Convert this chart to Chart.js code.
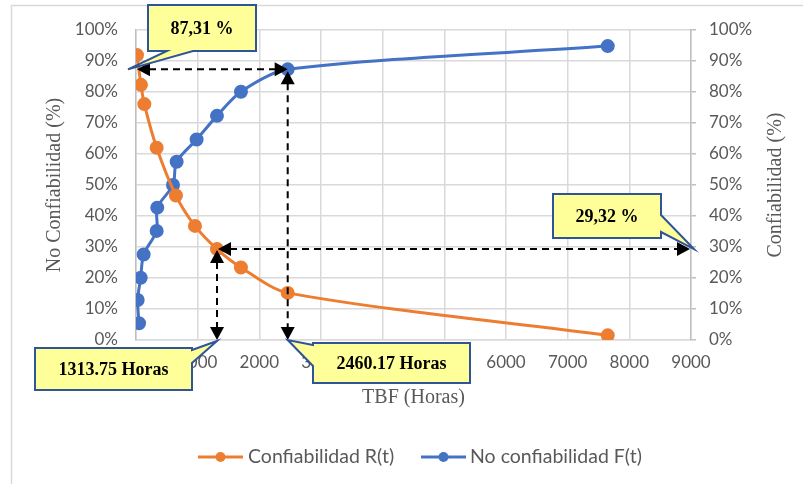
<!DOCTYPE html>
<html>
<head>
<meta charset="utf-8">
<script src="https://cdn.jsdelivr.net/npm/chart.js@4"></script>
<style>
  html,body{margin:0;padding:0;background:#fff;}
  canvas{display:block;}
</style>
</head>
<body>
<canvas id="chart" width="803" height="484"></canvas>
<script>
// data
const rtX = [16, 81, 135, 335, 648, 956, 1313.75, 1702, 2460.17, 7650];
const rtY = [91.9, 82.3, 76.1, 62.0, 46.6, 36.8, 29.32, 23.4, 15.2, 1.5];
const ftX = [49, 27, 76, 124, 335, 345, 600, 659, 983, 1313, 1702, 2460.17, 7650];
const ftY = [5.4, 12.9, 20.1, 27.6, 35.2, 42.7, 50.0, 57.5, 64.7, 72.3, 80.1, 87.31, 94.8];
const seriesNames = ['Confiabilidad R(t)', 'No confiabilidad F(t)'];
const seriesColors = ['#ED7D31', '#4472C4'];
const xTicks = [0, 1000, 2000, 3000, 4000, 5000, 6000, 7000, 8000, 9000];
const yTicks = [0, 10, 20, 30, 40, 50, 60, 70, 80, 90, 100];

// marked readings (callouts + dashed arrows)
const markHours = [1313.75, 2460.17];
const markPct = [29.32, 87.31];
const markTexts = ['1313.75 Horas', '2460.17 Horas', '29,32 %', '87,31 %'];

const gc = '#d9d9d9';
const tc = '#595959';
const tickFont = {family:'Lato', size:17};
const serif = 'Liberation Serif';

const toPts = (xs, ys) => xs.map((x,i)=>({x, y:ys[i]}));

function arrowHead(ctx, tx, ty, dx, dy){
  const L = 13, W = 7;
  const bx = tx - dx*L, by = ty - dy*L;
  ctx.beginPath();
  ctx.moveTo(tx, ty);
  ctx.lineTo(bx - dy*W, by + dx*W);
  ctx.lineTo(bx + dy*W, by - dx*W);
  ctx.closePath();
  ctx.fill();
}
function dashedArrow(ctx, x1, y1, x2, y2){
  const len = Math.hypot(x2-x1, y2-y1);
  const dx = (x2-x1)/len, dy = (y2-y1)/len;
  ctx.save();
  ctx.strokeStyle = '#000'; ctx.fillStyle = '#000';
  ctx.lineWidth = 2; ctx.setLineDash([7,5]);
  ctx.beginPath();
  ctx.moveTo(x1 + dx*12, y1 + dy*12);
  ctx.lineTo(x2 - dx*12, y2 - dy*12);
  ctx.stroke();
  ctx.setLineDash([]);
  arrowHead(ctx, x2, y2, dx, dy);
  arrowHead(ctx, x1, y1, -dx, -dy);
  ctx.restore();
}
// poly = outline of box with tail already inserted
function callout(ctx, poly, box, text){
  ctx.save();
  ctx.beginPath();
  poly.forEach((p,i)=> i ? ctx.lineTo(p[0],p[1]) : ctx.moveTo(p[0],p[1]));
  ctx.closePath();
  ctx.fillStyle = '#FFFF99';
  ctx.fill();
  ctx.strokeStyle = '#2F5597';
  ctx.lineWidth = 2;
  ctx.lineJoin = 'miter';
  ctx.stroke();
  ctx.fillStyle = '#000';
  ctx.font = 'bold 18px "' + serif + '"';
  ctx.textAlign = 'center';
  ctx.textBaseline = 'middle';
  ctx.fillText(text, box[0] + box[2]/2, box[1] + box[3]/2 + 1);
  ctx.restore();
}

const decor = {
  id:'decor',
  beforeDraw(chart){
    const ctx = chart.ctx;
    ctx.save();
    ctx.fillStyle = '#fff';
    ctx.fillRect(0,0,chart.width,chart.height);
    ctx.strokeStyle = gc; ctx.lineWidth = 1.5;
    ctx.strokeRect(11.5, 5.5, chart.width, chart.height);
    ctx.restore();
  },
  afterDatasetsDraw(chart){
    const ctx = chart.ctx;
    const xs = chart.scales.x, ys = chart.scales.y;
    const px = v => xs.getPixelForValue(v), py = v => ys.getPixelForValue(v);
    const x0 = px(0), xEnd = px(9000), yB = py(0);

    // dashed arrows
    const h1 = px(markHours[0]), h2 = px(markHours[1]);
    const r1 = py(markPct[0]), r2 = py(markPct[1]);
    dashedArrow(ctx, x0 + 1, r2, h2, r2);
    dashedArrow(ctx, h2, r2 + 2, h2, yB);
    dashedArrow(ctx, h1 + 1, r1, xEnd - 1, r1);
    dashedArrow(ctx, h1, r1 + 1, h1, yB);

    // callouts
    let b = [35, 348, 157, 42];
    callout(ctx, [[b[0],b[1]],[b[0]+b[2],b[1]],[b[0]+b[2],b[1]+2],[h1, yB+1],[b[0]+b[2],b[1]+15],[b[0]+b[2],b[1]+b[3]],[b[0],b[1]+b[3]]], b, markTexts[0]);
    b = [313, 343, 157, 40];
    callout(ctx, [[b[0],b[1]],[b[0]+b[2],b[1]],[b[0]+b[2],b[1]+b[3]],[b[0],b[1]+b[3]],[b[0],b[1]+23],[h2, yB],[b[0],b[1]+2]], b, markTexts[1]);
    b = [553, 194, 108, 44];
    callout(ctx, [[b[0],b[1]],[b[0]+b[2],b[1]],[b[0]+b[2],b[1]+21],[xEnd+3, r1],[b[0]+b[2],b[1]+38],[b[0]+b[2],b[1]+b[3]],[b[0],b[1]+b[3]]], b, markTexts[2]);
    b = [148, 5, 108, 46];
    callout(ctx, [[b[0],b[1]],[b[0]+b[2],b[1]],[b[0]+b[2],b[1]+b[3]],[193,b[1]+b[3]],[x0-8, r2],[167,b[1]+b[3]],[b[0],b[1]+b[3]]], b, markTexts[3]);

    // right axis title, reading bottom to top
    ctx.save();
    ctx.translate(776, (chart.chartArea.top + chart.chartArea.bottom)/2);
    ctx.rotate(-Math.PI/2);
    ctx.fillStyle = tc;
    ctx.font = '20px "' + serif + '"';
    ctx.textAlign = 'center'; ctx.textBaseline = 'middle';
    ctx.fillText('Confiabilidad (%)', 0, 0);
    ctx.restore();

    // legend
    ctx.save();
    ctx.font = '19.5px Lato';
    ctx.textBaseline = 'middle';
    const ly = 457;
    [[198, 248], [421, 470]].forEach((p, i)=>{
      ctx.strokeStyle = seriesColors[i]; ctx.fillStyle = seriesColors[i];
      ctx.lineWidth = 3;
      ctx.beginPath(); ctx.moveTo(p[0], ly); ctx.lineTo(p[0]+45, ly); ctx.stroke();
      ctx.beginPath(); ctx.arc(p[0]+22.5, ly, 5, 0, Math.PI*2); ctx.fill();
      ctx.fillStyle = tc;
      ctx.fillText(seriesNames[i], p[1], ly);
    });
    ctx.restore();
  }
};

const lineSet = (i, pts) => ({
  label: seriesNames[i],
  data: pts,
  showLine: true,
  borderColor: seriesColors[i],
  backgroundColor: seriesColors[i],
  borderWidth: 3,
  pointRadius: 5.5,
  pointHoverRadius: 5.5,
  tension: 0.3,
  yAxisID: 'y'
});

new Chart(document.getElementById('chart'), {
  type: 'scatter',
  data: {
    datasets: [
      lineSet(0, toPts(rtX, rtY)),
      lineSet(1, toPts(ftX, ftY))
    ]
  },
  plugins: [decor],
  options: {
    responsive: false,
    animation: false,
    layout: {padding: {left: 12, right: 0, top: 30, bottom: 74}},
    plugins: {legend: {display: false}, tooltip: {enabled: false}},
    scales: {
      x: {
        type: 'linear', min: 0, max: 9000,
        afterBuildTicks: s => { s.ticks = xTicks.map(v=>({value:v})); },
        afterFit: s => { s.height = 70; },
        grid: {color: gc, lineWidth: 1.5, drawTicks: false},
        border: {color: gc, width: 1.5},
        ticks: {color: tc, font: tickFont, padding: 12, maxRotation: 0, callback: v => String(v)},
        title: {display: true, text: 'TBF (Horas)', color: tc, font: {family: serif, size: 20}, padding: {top: 3, bottom: 0}}
      },
      y: {
        position: 'left', min: 0, max: 100,
        afterBuildTicks: s => { s.ticks = yTicks.map(v=>({value:v})); },
        afterFit: s => { s.width = 124; },
        grid: {color: gc, lineWidth: 1.5, drawTicks: false},
        border: {color: '#bfbfbf', width: 1.5},
        ticks: {color: tc, font: tickFont, padding: 18, callback: v => v + '%'},
        title: {display: true, text: 'No Confiabilidad (%)', color: tc, font: {family: serif, size: 20}, padding: {top: 31, bottom: 0}}
      },
      y2: {
        position: 'right', min: 0, max: 100,
        afterBuildTicks: s => { s.ticks = yTicks.map(v=>({value:v})); },
        afterFit: s => { s.width = 112; },
        grid: {drawOnChartArea: false, color: '#bfbfbf', lineWidth: 1.5, tickLength: 5},
        border: {color: '#bfbfbf', width: 1.5},
        ticks: {color: tc, font: tickFont, padding: 13, callback: v => v + '%'}
      }
    }
  }
});
</script>
</body>
</html>
